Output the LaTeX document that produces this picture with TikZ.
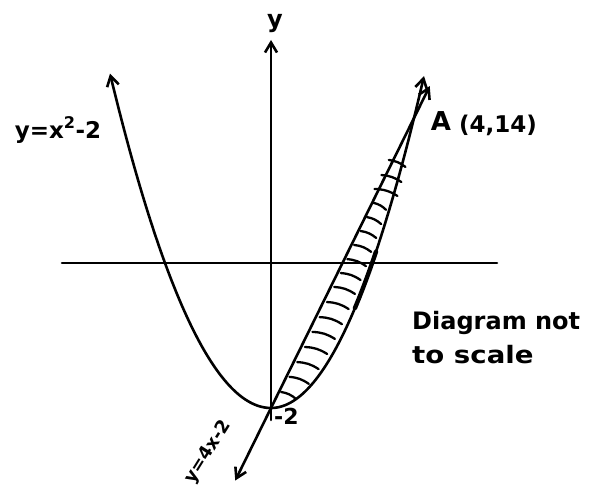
\documentclass[tikz,border=0pt]{standalone}
\usepackage{fontspec}
\newfontfamily\hand{DejaVu Sans}
\usetikzlibrary{arrows.meta,calc}
\begin{document}
\begin{tikzpicture}[x=1pt,y=-1pt,
  curve/.style={line width=2.6pt, line cap=round, line join=round},
  tipend/.style={-{Straight Barb[length=10pt,width=12pt]}},
  tipboth/.style={{Straight Barb[length=10pt,width=12pt]}-{Straight Barb[length=10pt,width=12pt]}},
  lbl/.style={font=\hand\bfseries\fontsize{#1}{#1}\selectfont, inner sep=0pt},
  hatchmark/.style={line width=2.3pt, line cap=round}]
\path[use as bounding box] (0,0) rectangle (593,486);
\coordinate (O) at (271,408);
\coordinate (A) at (414,118);
\coordinate (xl) at (62,263);
\coordinate (xr) at (497,263);
\coordinate (yb) at (271,420);
\coordinate (yt) at (271,40);
\coordinate (Lb) at ($(O)!-0.25!(A)$);
\coordinate (Lt) at ($(O)!1.11!(A)$);
% axes
\draw[curve] (xl) -- (xr);
\draw[curve, tipend] (yb) -- (yt);
% parabola
\draw[curve, tipboth, domain=-16.1:15.3, samples=140, smooth, variable=\t]
  plot ({271+10*\t},{408-(\t<0 ? 1.29 : 1.418)*\t*\t});
\draw[line width=4.4pt, line cap=round, domain=8.4:10.5, samples=20, variable=\t]
  plot ({271+10*\t},{408-1.418*\t*\t});
% line y=4x-2
\draw[curve, tipboth] (Lb) -- (Lt);
% hatching
\foreach \s in {0.045,0.097,0.148,0.2,0.252,0.303,0.355,0.407,0.455,0.503,0.552,0.6,0.648,0.697,0.745,0.793,0.845} {
  \pgfmathsetmacro\yy{408-290*\s}
  \pgfmathsetmacro\lx{271+143*\s}
  \pgfmathsetmacro\px{271+143*sqrt(\s)}
  \pgfmathsetmacro\g{\px-\lx}
  \pgfmathsetmacro\sa{\s>0.7 ? \lx-3 : \lx+0.15*\g}
  \pgfmathsetmacro\se{\s>0.7 ? \px+3 : \lx+0.78*\g}
  \draw[hatchmark] (\sa,\yy-3) to[bend left=15] (\se,\yy+4);
}
% labels
\node[lbl=24] (ylab) at (275,24) {y};
\node[lbl=23] (eqp) at (58,130) {y=x\textsuperscript{2}-2};
\node[lbl=22, anchor=west] (m2) at (274,416) {-2};
\node[lbl=18, rotate=58] (eql) at (208,452) {y=4x-2};
\node[lbl=26] (Alab) at (441,121) {A};
\node[lbl=23] (Acoord) at (498,125) {(4,14)};
\node[lbl=24, anchor=west] (d1) at (412,323) {Diagram not};
\node[lbl=24, anchor=west, xscale=1.15] (d2) at (412,355) {to scale};
\end{tikzpicture}
\end{document}
